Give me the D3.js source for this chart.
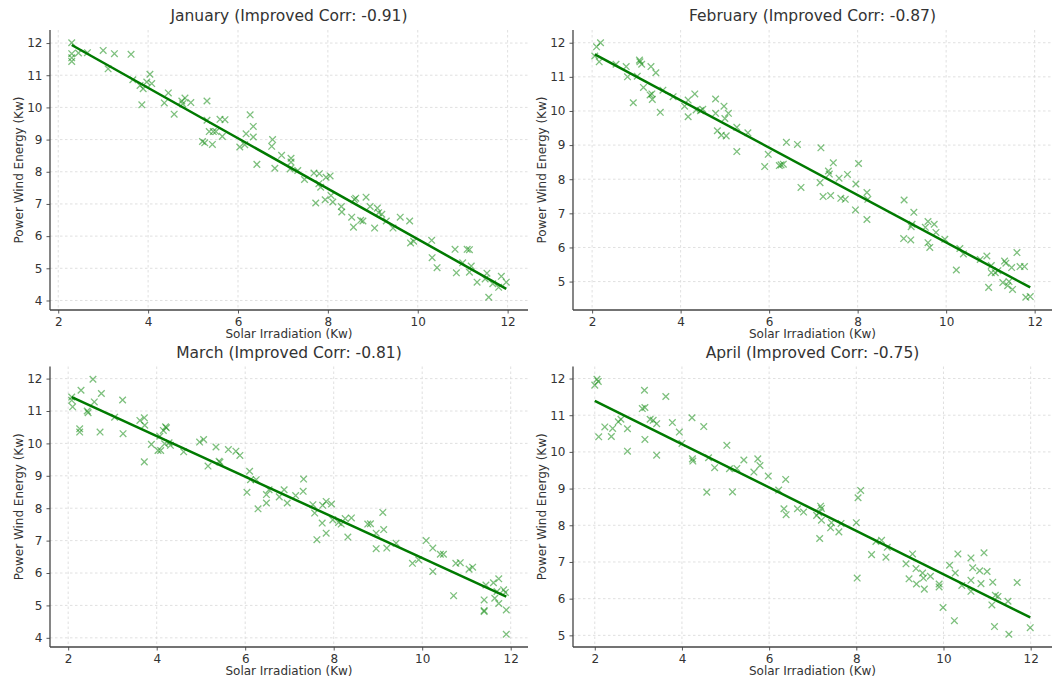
<!DOCTYPE html>
<html>
<head>
<meta charset="utf-8">
<script src="https://cdn.jsdelivr.net/npm/d3@7"></script>
<style>
  html, body { margin: 0; padding: 0; background: #fff; }
  svg { display: block; font-family: "DejaVu Sans", sans-serif; }
</style>
</head>
<body>
<svg id="chart" width="1062" height="679"></svg>
<script>
// Monthly scatter of solar irradiation vs. wind power, each with its linear fit.
const months = ["January", "February", "March", "April"];
const corrLabels = ["-0.91", "-0.87", "-0.81", "-0.75"];
const xTickValues = [2, 4, 6, 8, 10, 12];
const yTickValues = [
  [4, 5, 6, 7, 8, 9, 10, 11, 12],
  [5, 6, 7, 8, 9, 10, 11, 12],
  [4, 5, 6, 7, 8, 9, 10, 11, 12],
  [5, 6, 7, 8, 9, 10, 11, 12]
];

// [solar irradiation, wind power] pairs
const januaryPoints = [
  [2.30,12.01],[2.30,11.67],[2.30,11.54],[2.30,11.43],[2.45,11.69],[2.65,11.70],[3.00,11.77],[3.11,11.20],
  [3.25,11.67],[3.62,11.65],[3.66,10.86],[3.82,10.68],[3.89,10.58],[3.86,10.08],[3.97,10.79],[4.04,11.03],
  [4.08,10.74],[4.36,10.14],[4.45,10.45],[4.58,9.79],[4.75,10.20],[4.82,10.29],[4.77,10.11],[4.95,10.15],
  [5.21,8.94],[5.26,8.90],[5.31,10.20],[5.31,9.60],[5.36,9.25],[5.43,8.85],[5.45,9.25],[5.51,9.25],
  [5.60,9.63],[5.71,9.62],[5.65,9.10],[6.04,8.77],[6.15,8.84],[6.18,9.18],[6.27,9.77],[6.34,9.41],
  [6.34,9.08],[6.42,8.23],[6.77,9.00],[6.75,8.79],[6.82,8.11],[6.97,8.51],[7.18,8.42],[7.18,8.30],
  [7.16,8.09],[7.33,8.04],[7.48,7.76],[7.69,7.96],[7.81,7.94],[7.96,7.83],[8.05,7.87],[7.80,7.63],
  [7.84,7.52],[7.73,7.03],[7.94,7.13],[8.07,7.26],[8.11,7.06],[8.30,6.92],[8.31,6.75],[8.53,6.59],
  [8.57,6.28],[8.59,7.14],[8.62,7.18],[8.73,6.49],[8.78,6.47],[8.85,7.21],[8.94,6.92],[9.04,6.25],
  [9.10,6.87],[9.13,6.73],[9.20,6.68],[9.30,6.47],[9.45,6.25],[9.61,6.59],[9.82,6.47],[9.84,5.79],
  [9.91,5.84],[10.31,5.87],[10.32,5.33],[10.43,5.02],[10.83,5.59],[10.86,4.86],[11.00,5.17],[11.10,5.59],
  [11.15,5.58],[11.19,5.07],[11.15,4.88],[11.32,4.57],[11.50,4.67],[11.54,4.85],[11.58,4.10],[11.67,4.52],
  [11.80,4.41],[11.86,4.75],[11.97,4.57]
];
const februaryPoints = [
  [2.06,11.61],[2.10,11.88],[2.19,12.00],[2.16,11.44],[2.54,11.37],[2.77,11.30],[2.80,11.00],[2.93,10.24],
  [3.07,11.49],[3.08,11.44],[3.12,11.37],[3.02,11.02],[3.16,10.69],[3.33,11.30],[3.44,11.12],[3.31,10.47],
  [3.35,10.50],[3.36,10.34],[3.54,9.96],[3.60,10.61],[3.83,10.42],[4.09,10.14],[4.17,10.32],[4.17,9.83],
  [4.32,10.50],[4.35,10.03],[4.45,10.01],[4.50,10.05],[4.79,10.35],[4.79,9.93],[4.83,9.42],[4.92,9.29],
  [4.98,10.14],[5.00,9.78],[5.03,9.27],[5.08,9.93],[5.27,9.52],[5.27,8.81],[5.52,9.36],[5.90,8.37],
  [5.98,8.73],[6.23,8.40],[6.27,8.42],[6.32,8.44],[6.39,9.08],[6.64,9.02],[6.72,7.76],[7.17,8.92],
  [7.15,7.90],[7.22,7.49],[7.34,8.24],[7.36,8.15],[7.39,7.52],[7.45,8.48],[7.58,8.03],[7.62,7.44],
  [7.72,7.41],[7.77,8.14],[7.96,7.86],[7.95,7.10],[8.02,8.46],[8.21,7.61],[8.23,7.41],[8.21,6.82],
  [9.05,7.39],[9.04,6.26],[9.20,6.22],[9.27,7.03],[9.21,6.61],[9.23,6.68],[9.53,6.59],[9.59,6.76],
  [9.59,6.14],[9.63,6.00],[9.73,6.68],[9.77,6.44],[9.97,6.24],[10.23,5.34],[10.31,5.97],[10.39,5.81],
  [10.77,5.65],[10.92,5.75],[11.02,5.47],[10.96,4.83],[11.02,5.26],[11.11,5.26],[11.17,5.32],[11.32,5.60],
  [11.35,5.54],[11.28,4.97],[11.39,4.88],[11.42,5.00],[11.50,4.77],[11.48,5.41],[11.60,5.85],[11.67,5.44],
  [11.77,5.44],[11.80,4.54],[11.90,4.56]
];
const marchPoints = [
  [2.08,11.43],[2.08,11.33],[2.10,11.13],[2.29,11.64],[2.26,10.45],[2.26,10.35],[2.43,11.00],[2.45,10.95],
  [2.56,11.98],[2.59,11.28],[2.75,11.54],[2.72,10.35],[3.05,10.81],[3.23,11.34],[3.24,10.30],[3.62,10.71],
  [3.72,10.79],[3.73,10.56],[3.72,9.43],[3.88,9.97],[4.03,9.78],[4.09,9.78],[4.07,10.22],[4.15,10.40],
  [4.20,10.51],[4.22,10.48],[4.18,9.99],[4.28,10.02],[4.31,9.94],[4.61,9.74],[4.97,10.04],[5.06,10.12],
  [5.16,9.30],[5.34,9.89],[5.41,9.45],[5.43,9.42],[5.62,9.81],[5.79,9.76],[5.88,9.63],[6.04,8.49],
  [6.10,9.14],[6.12,8.88],[6.25,8.88],[6.29,7.98],[6.48,8.42],[6.48,8.16],[6.54,8.57],[6.77,8.35],
  [6.88,8.57],[6.95,8.16],[7.14,8.39],[7.32,8.90],[7.31,8.52],[7.53,8.11],[7.57,7.85],[7.62,7.03],
  [7.74,7.54],[7.75,8.09],[7.83,8.21],[7.83,7.23],[7.95,8.13],[7.98,7.64],[8.11,7.56],[8.17,7.51],
  [8.26,7.68],[8.32,7.11],[8.40,7.70],[8.77,7.51],[8.83,7.52],[8.96,7.23],[8.96,6.75],[9.11,7.87],
  [9.13,7.34],[9.20,6.77],[9.41,6.92],[9.78,6.30],[9.92,6.41],[10.09,7.00],[10.24,6.77],[10.24,6.05],
  [10.41,6.58],[10.48,6.58],[10.71,5.30],[10.76,6.30],[10.86,6.32],[11.06,6.12],[11.14,6.18],[11.40,5.17],
  [11.40,4.84],[11.40,4.81],[11.44,5.63],[11.61,5.70],[11.64,5.22],[11.73,5.82],[11.69,5.43],[11.73,5.06],
  [11.84,5.48],[11.88,5.40],[11.90,4.86],[11.90,4.11]
];
const aprilPoints = [
  [2.00,11.82],[2.05,11.98],[2.08,11.92],[2.09,10.41],[2.23,10.68],[2.38,10.42],[2.41,10.64],[2.54,10.82],
  [2.60,10.89],[2.75,10.63],[2.75,10.02],[3.09,11.18],[3.14,11.68],[3.15,11.21],[3.15,10.34],[3.27,10.89],
  [3.34,10.86],[3.42,10.77],[3.42,9.91],[3.63,11.51],[3.78,10.80],[3.94,10.54],[4.00,10.23],[4.23,10.93],
  [4.24,9.81],[4.25,9.75],[4.50,10.69],[4.57,8.90],[4.61,9.84],[4.75,9.57],[5.03,10.18],[5.09,9.54],
  [5.16,8.91],[5.26,9.55],[5.42,9.78],[5.65,9.45],[5.74,9.81],[5.79,9.63],[5.98,9.34],[6.22,8.96],
  [6.38,9.25],[6.34,8.45],[6.39,8.29],[6.65,8.45],[6.79,8.36],[7.09,8.27],[7.18,8.52],[7.20,8.46],
  [7.14,8.34],[7.20,8.14],[7.16,7.64],[7.41,7.93],[7.43,8.07],[7.60,7.82],[7.65,8.05],[8.00,8.07],
  [8.04,8.75],[8.10,8.95],[8.02,6.56],[8.35,7.20],[8.45,7.56],[8.58,7.59],[8.68,7.13],[8.71,7.40],
  [9.14,6.95],[9.21,6.54],[9.29,7.22],[9.37,6.82],[9.38,6.40],[9.52,6.70],[9.54,6.56],[9.56,6.26],
  [9.70,6.61],[9.90,6.40],[9.90,6.32],[9.99,5.76],[10.14,6.91],[10.25,5.40],[10.27,6.70],[10.33,7.22],
  [10.42,6.36],[10.63,7.11],[10.67,6.84],[10.63,6.50],[10.63,6.20],[10.83,6.76],[10.86,6.41],[10.93,7.25],
  [11.00,6.74],[11.13,6.45],[11.11,5.83],[11.17,5.24],[11.19,6.09],[11.25,6.06],[11.48,5.93],[11.50,5.03],
  [11.69,6.44],[11.99,5.21]
];
const monthlyPoints = [januaryPoints, februaryPoints, marchPoints, aprilPoints];

const xLabel = "Solar Irradiation (Kw)";
const yLabel = "Power Wind Energy (Kw)";

const svg = d3.select("#chart");

// Subplot boxes (2 x 2 grid)
const cols = [{ left: 50, right: 528 }, { left: 573, right: 1052 }];
const rows = [{ top: 30, bottom: 310 }, { top: 366.5, bottom: 647 }];

const markerColor = "rgb(20,140,20)";
const lineColor = "#007a00";
const gridColor = "#d8d8d8";
const spineColor = "#444";
const textColor = "#333";

function paddedDomain(values) {
  const [lo, hi] = d3.extent(values);
  const pad = (hi - lo) * 0.05;
  return [lo - pad, hi + pad];
}

function linearFit(points) {
  const mx = d3.mean(points, d => d[0]);
  const my = d3.mean(points, d => d[1]);
  const sxy = d3.sum(points, d => (d[0] - mx) * (d[1] - my));
  const sxx = d3.sum(points, d => (d[0] - mx) ** 2);
  const slope = sxy / sxx;
  return { slope, intercept: my - slope * mx };
}

months.forEach((month, i) => {
  const pts = monthlyPoints[i];
  const col = cols[i % 2];
  const row = rows[Math.floor(i / 2)];
  const w = col.right - col.left;
  const h = row.bottom - row.top;

  const x = d3.scaleLinear().domain(paddedDomain(pts.map(d => d[0]))).range([0, w]);
  const y = d3.scaleLinear().domain(paddedDomain(pts.map(d => d[1]))).range([h, 0]);

  const g = svg.append("g").attr("transform", `translate(${col.left},${row.top})`);

  // dashed grid
  g.append("g").selectAll("line").data(xTickValues).join("line")
    .attr("x1", d => x(d)).attr("x2", d => x(d)).attr("y1", 0).attr("y2", h)
    .attr("stroke", gridColor).attr("stroke-width", 0.8).attr("stroke-dasharray", "2.5,2.5");
  g.append("g").selectAll("line").data(yTickValues[i]).join("line")
    .attr("x1", 0).attr("x2", w).attr("y1", d => y(d)).attr("y2", d => y(d))
    .attr("stroke", gridColor).attr("stroke-width", 0.8).attr("stroke-dasharray", "2.5,2.5");

  // scatter markers drawn as "x"
  const s = 3.3;
  g.append("g").selectAll("path").data(pts).join("path")
    .attr("d", d => {
      const cx = x(d[0]), cy = y(d[1]);
      return `M${cx - s},${cy - s}L${cx + s},${cy + s}M${cx - s},${cy + s}L${cx + s},${cy - s}`;
    })
    .attr("stroke", markerColor).attr("stroke-opacity", 0.55).attr("stroke-width", 1.3).attr("fill", "none");

  // least-squares line across the observed range
  const fit = linearFit(pts);
  const [x0, x1] = d3.extent(pts, d => d[0]);
  g.append("line")
    .attr("x1", x(x0)).attr("y1", y(fit.slope * x0 + fit.intercept))
    .attr("x2", x(x1)).attr("y2", y(fit.slope * x1 + fit.intercept))
    .attr("stroke", lineColor).attr("stroke-width", 2.5);

  // axes
  const xAxis = g.append("g").attr("transform", `translate(0,${h})`)
    .call(d3.axisBottom(x).tickValues(xTickValues).tickSize(3.5).tickPadding(4).tickFormat(d3.format("d")));
  const yAxis = g.append("g")
    .call(d3.axisLeft(y).tickValues(yTickValues[i]).tickSize(3.5).tickPadding(4).tickFormat(d3.format("d")));
  [xAxis, yAxis].forEach(a => {
    a.select(".domain").remove();
    a.selectAll(".tick line").attr("stroke", spineColor).attr("stroke-width", 0.9);
    a.selectAll(".tick text").attr("fill", textColor).style("font-size", "12px")
      .style("font-family", "'DejaVu Sans', sans-serif");
  });

  // left and bottom spines
  g.append("line").attr("x1", 0).attr("x2", 0).attr("y1", 0).attr("y2", h)
    .attr("stroke", spineColor).attr("stroke-width", 1.3);
  g.append("line").attr("x1", 0).attr("x2", w).attr("y1", h).attr("y2", h)
    .attr("stroke", spineColor).attr("stroke-width", 1.3);

  // titles and labels
  g.append("text").attr("x", w / 2).attr("y", -9).attr("text-anchor", "middle")
    .attr("fill", textColor).style("font-size", "15.5px")
    .text(`${month} (Improved Corr: ${corrLabels[i]})`);
  g.append("text").attr("x", w / 2).attr("y", h + 28).attr("text-anchor", "middle")
    .attr("fill", textColor).style("font-size", "12px").text(xLabel);
  g.append("text").attr("transform", `translate(-27,${h / 2}) rotate(-90)`)
    .attr("text-anchor", "middle").attr("fill", textColor).style("font-size", "12px").text(yLabel);
});
</script>
</body>
</html>
